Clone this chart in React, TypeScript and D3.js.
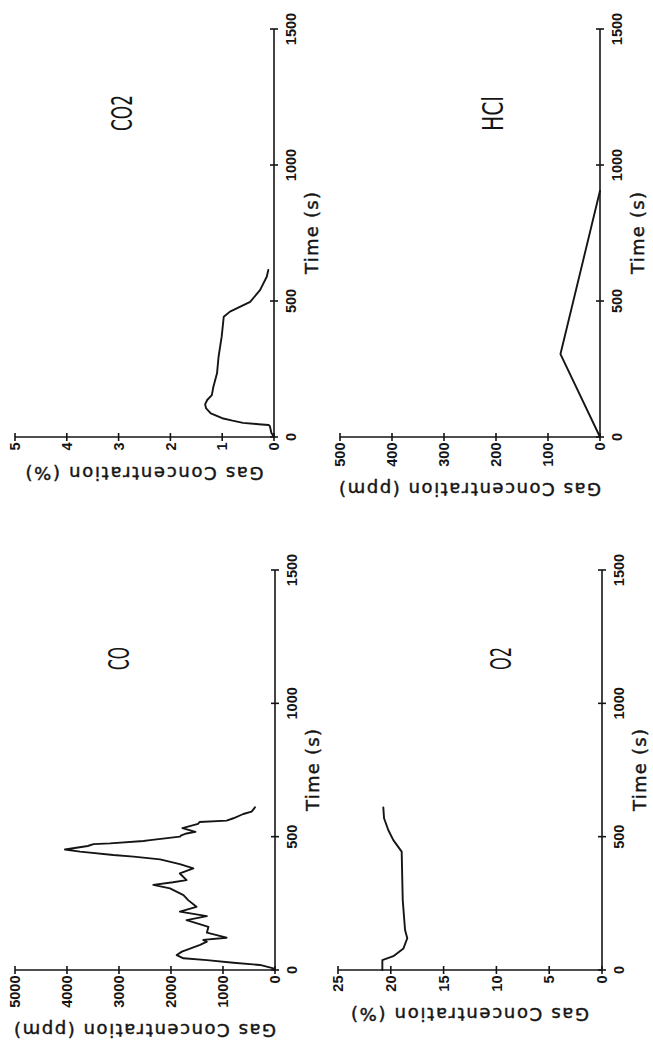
import React from "react";
import * as d3 from "d3";

// ---- data ----
const timeTicks = [0, 500, 1000, 1500];
const coTicks = [0, 1000, 2000, 3000, 4000, 5000];
const co2Ticks = [0, 1, 2, 3, 4, 5];
const o2Ticks = [0, 5, 10, 15, 20, 25];
const hclTicks = [0, 100, 200, 300, 400, 500];

// [time (s), ppm]
const coSeries: [number, number][] = [
  [0, 0], [6, 30], [19, 290], [27, 800], [37, 1310], [44, 1760], [56, 1890], [69, 1790],
  [94, 1440], [106, 1310], [113, 1380], [121, 930], [131, 1120], [140, 1310], [162, 1280],
  [187, 1700], [202, 1310], [219, 1830], [237, 1510], [262, 1670], [281, 1760], [306, 2020],
  [319, 2340], [329, 1960], [337, 1700], [362, 1830], [381, 1570], [397, 1830], [415, 2210],
  [425, 2720], [431, 3110], [444, 3750], [452, 4040], [465, 3600], [472, 3490], [475, 3170],
  [484, 2530], [487, 2400], [500, 1830], [505, 1800], [512, 1700], [518, 1530], [532, 1780],
  [548, 1480], [555, 1450], [560, 930], [569, 800], [585, 610], [594, 450], [610, 385],
];
// [time (s), %]
const co2Series: [number, number][] = [
  [0, 0], [15, 0.05], [40, 0.08], [44, 0.1], [47, 0.3], [52, 0.6], [60, 0.8], [69, 1.0],
  [87, 1.22], [105, 1.31], [120, 1.33], [136, 1.29], [154, 1.2], [185, 1.17], [234, 1.1],
  [295, 1.07], [332, 1.04], [369, 1.01], [442, 0.97], [461, 0.85], [497, 0.46], [540, 0.27],
  [589, 0.14], [614, 0.11],
];
// [time (s), %]
const o2Series: [number, number][] = [
  [0, 20.8], [37, 20.8], [52, 19.76], [81, 18.8], [119, 18.44], [150, 18.65], [262, 18.87],
  [444, 18.97], [487, 19.76], [525, 20.24], [569, 20.64], [610, 20.71],
];
// [time (s), ppm]
const hclSeries: [number, number][] = [
  [0, 0], [305, 76], [905, 0],
];

const gasNames = ["CO", "CO2", "O2", "HCl"];
const units = ["(ppm)", "(%)", "(%)", "(ppm)"];

// ---- layout (landscape page, later rotated -90deg) ----
const layout = [
  { x0: 83, x1: 483, yBase: 275, yTop: 15, titleOffset: 60, labelRise: 157, labelLen: 23 },
  { x0: 616, x1: 1024, yBase: 274, yTop: 15, titleOffset: 36, labelRise: 153, labelLen: 36 },
  { x0: 83, x1: 483, yBase: 602, yTop: 338, titleOffset: 44, labelRise: 102, labelLen: 23 },
  { x0: 616, x1: 1024, yBase: 600, yTop: 340, titleOffset: 52, labelRise: 108, labelLen: 35 },
];

const seriesList = [coSeries, co2Series, o2Series, hclSeries];
const tickList = [coTicks, co2Ticks, o2Ticks, hclTicks];

const INK = "#151515";
const TICK_FONT = "'Liberation Sans', Arial, sans-serif";
const TITLE_FONT = "'DejaVu Sans', Verdana, sans-serif";

function Panel({ idx }: { idx: number }) {
  const L = layout[idx];
  const ticks = tickList[idx];
  const maxV = ticks[ticks.length - 1];
  const x = d3.scaleLinear().domain([0, 1500]).range([L.x0, L.x1]);
  const y = d3.scaleLinear().domain([0, maxV]).range([L.yBase, L.yTop]);
  const line = d3
    .line<[number, number]>()
    .x((d) => x(d[0]))
    .y((d) => y(d[1]));
  const unit = units[idx];
  return (
    <g>
      {/* axes */}
      <line x1={x(0)} x2={x(1500)} y1={y(0)} y2={y(0)} stroke={INK} strokeWidth={1.6} />
      <line x1={x(0)} x2={x(0)} y1={y(0)} y2={y(maxV)} stroke={INK} strokeWidth={1.6} />
      {timeTicks.map((t) => (
        <g key={"t" + t}>
          <line x1={x(t)} x2={x(t)} y1={y(0) - 4} y2={y(0) + 4} stroke={INK} strokeWidth={1.6} />
          <text
            x={x(t)}
            y={y(0) + 22}
            textAnchor="middle"
            fontFamily={TICK_FONT}
            fontWeight="bold"
            fontSize={14.5}
            fill={INK}
          >
            {t}
          </text>
        </g>
      ))}
      {ticks.map((v) => (
        <g key={"v" + v}>
          <line x1={x(0) - 4} x2={x(0) + 4} y1={y(v)} y2={y(v)} stroke={INK} strokeWidth={1.6} />
          <text
            x={x(0) - 5.5}
            y={y(v) + 5.2}
            textAnchor="end"
            fontFamily={TICK_FONT}
            fontWeight="bold"
            fontSize={14.5}
            fill={INK}
          >
            {v}
          </text>
        </g>
      ))}
      <text
        x={(x(0) + x(1500)) / 2}
        y={y(0) + 44}
        textAnchor="middle"
        fontFamily={TITLE_FONT}
        fontSize={18}
        stroke={INK}
        strokeWidth={0.45}
        textLength={82}
        fill={INK}
      >
        Time (s)
      </text>
      <text
        transform={`translate(${x(0) - L.titleOffset},${(y(0) + y(maxV)) / 2}) rotate(-90)`}
        textAnchor="middle"
        dy={6.5}
        fontFamily={TITLE_FONT}
        fontSize={18}
        stroke={INK}
        strokeWidth={0.45}
        textLength={unit === "(%)" ? 238 : 262}
        fill={INK}
      >
        {"Gas Concentration " + unit}
      </text>
      {/* data */}
      <path
        d={line(seriesList[idx]) || ""}
        fill="none"
        stroke={INK}
        strokeWidth={1.9}
        strokeLinejoin="round"
        strokeLinecap="round"
      />
      {/* gas name */}
      <text
        x={x(1125)}
        y={y(0) - L.labelRise + 10.5}
        fontFamily="'Liberation Sans Narrow', 'DejaVu Sans Condensed', sans-serif"
        fontSize={28}
        textLength={L.labelLen}
        lengthAdjust="spacingAndGlyphs"
        fill={INK}
      >
        {gasNames[idx]}
      </text>
    </g>
  );
}

export default function App() {
  return (
    <svg
      width={653}
      height={1053}
      style={{ position: "absolute", left: 0, top: 0, background: "#fff" }}
    >
      <rect x={0} y={0} width={653} height={1053} fill="#fff" />
      <g transform="translate(0,1053) rotate(-90)">
        {[0, 1, 2, 3].map((i) => (
          <Panel key={i} idx={i} />
        ))}
      </g>
    </svg>
  );
}
